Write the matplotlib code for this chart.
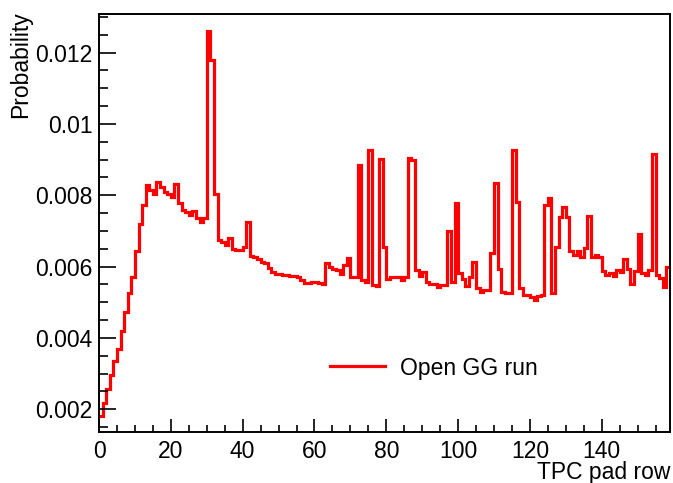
import numpy as np
import matplotlib
matplotlib.use("Agg")
import matplotlib.pyplot as plt
from matplotlib.ticker import MultipleLocator

plt.rcParams['font.family'] = ['Liberation Sans', 'DejaVu Sans']

# Data: probability per TPC pad row (159 rows)
pad_row_edges = np.arange(0, 160)
probability = [
    0.00181, 0.00219, 0.00256, 0.00295, 0.00335, 0.00370, 0.00420, 0.00473, 0.00526, 0.00572,
    0.00644, 0.00720, 0.00774, 0.00828, 0.00816, 0.00803, 0.00838, 0.00824, 0.00810, 0.00803,
    0.00794, 0.00831, 0.00779, 0.00760, 0.00754, 0.00745, 0.00757, 0.00735, 0.00726, 0.00735,
    0.01260, 0.01180, 0.00804, 0.00675, 0.00670, 0.00661, 0.00679, 0.00650, 0.00647, 0.00647,
    0.00654, 0.00724, 0.00630, 0.00626, 0.00620, 0.00614, 0.00610, 0.00597, 0.00585, 0.00580,
    0.00578, 0.00577, 0.00577, 0.00575, 0.00574, 0.00570, 0.00563, 0.00554, 0.00555, 0.00557,
    0.00556, 0.00553, 0.00550, 0.00610, 0.00600, 0.00594, 0.00590, 0.00580, 0.00605, 0.00625,
    0.00570, 0.00572, 0.00884, 0.00563, 0.00558, 0.00927, 0.00549, 0.00546, 0.00901, 0.00656,
    0.00565, 0.00572, 0.00570, 0.00570, 0.00563, 0.00572, 0.00903, 0.00899, 0.00591, 0.00574,
    0.00586, 0.00558, 0.00552, 0.00552, 0.00542, 0.00549, 0.00549, 0.00701, 0.00556, 0.00777,
    0.00582, 0.00565, 0.00547, 0.00571, 0.00614, 0.00540, 0.00530, 0.00535, 0.00535, 0.00638,
    0.00835, 0.00593, 0.00528, 0.00525, 0.00525, 0.00928, 0.00782, 0.00540, 0.00521, 0.00521,
    0.00515, 0.00505, 0.00517, 0.00521, 0.00773, 0.00791, 0.00526, 0.00656, 0.00738, 0.00768,
    0.00740, 0.00645, 0.00633, 0.00645, 0.00627, 0.00652, 0.00742, 0.00628, 0.00633, 0.00627,
    0.00589, 0.00577, 0.00582, 0.00574, 0.00591, 0.00584, 0.00622, 0.00593, 0.00552, 0.00587,
    0.00691, 0.00582, 0.00577, 0.00591, 0.00915, 0.00577, 0.00568, 0.00544, 0.00598,
]
series_label = "Open GG run"
x_title = "TPC pad row"
y_title = "Probability"

W, H = 673, 483
fig = plt.figure(figsize=(W / 100, H / 100), dpi=100)
ax = fig.add_axes([99 / W, (H - 432) / H, 571 / W, 418 / H])

ax.stairs(probability, pad_row_edges, baseline=None, color='#ff0000',
          linewidth=2.3, label=series_label)

ax.set_xlim(0, 159)
ax.set_ylim(0.001364, 0.01308)

ax.xaxis.set_major_locator(MultipleLocator(20))
ax.xaxis.set_minor_locator(MultipleLocator(5))
ax.yaxis.set_major_locator(MultipleLocator(0.002))
ax.yaxis.set_minor_locator(MultipleLocator(0.0005))
ax.yaxis.set_major_formatter(plt.FuncFormatter(lambda v, p: ('%g' % round(v, 6))))

FS = 16.5
ax.tick_params(axis='x', which='major', direction='in', length=9.5, width=1.2,
               labelsize=FS, pad=6, top=False)
ax.tick_params(axis='x', which='minor', direction='in', length=4.8, width=1.2, top=False)
ax.tick_params(axis='y', which='major', direction='in', length=12.5, width=1.2,
               labelsize=FS, pad=4.5, right=False)
ax.tick_params(axis='y', which='minor', direction='in', length=6.3, width=1.2, right=False)
for s in ax.spines.values():
    s.set_linewidth(1.4)
    s.set_color('black')
    s.set_zorder(3)

fig.text(670 / W, 1 - 473 / H, x_title, ha='right', va='center', fontsize=FS)
fig.text(21 / W, 1 - 11 / H, y_title, ha='center', va='top', rotation=90, fontsize=FS)

leg = ax.legend(loc='center left', bbox_to_anchor=(330 / W, 1 - 368 / H),
                bbox_transform=fig.transFigure, frameon=False, fontsize=FS,
                borderpad=0, borderaxespad=0, handlelength=2.4, handletextpad=0.65)

fig.savefig("out.png", dpi=100)
